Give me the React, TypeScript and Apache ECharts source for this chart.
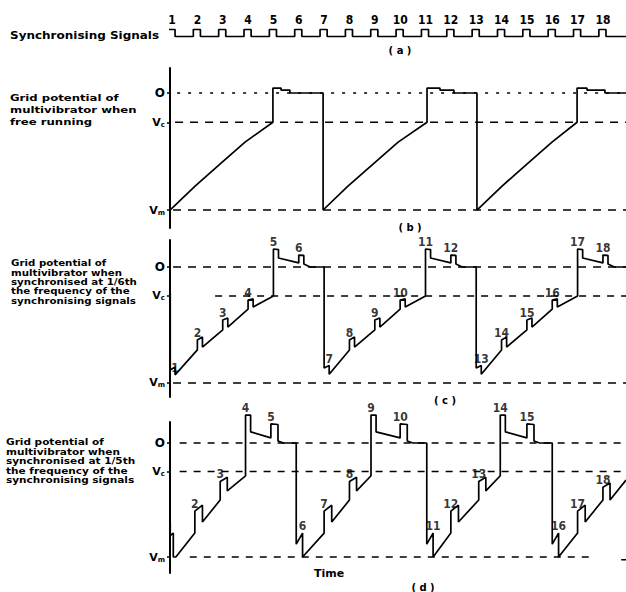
import React, { useEffect, useRef } from "react";
import * as echarts from "echarts";

// time axis is measured in synchronising-pulse periods (pulse n occurs at t = n)
const T_MIN = 0.92;
const T_MAX = 18.91;

const syncPulseNumbers = [1, 2, 3, 4, 5, 6, 7, 8, 9, 10, 11, 12, 13, 14, 15, 16, 17, 18];

// grid potential levels: O (zero), Vc (cut-off), Vm (minimum)
const levelValues = [0, -1, -4];
const levelNames = ["O", "Vc", "Vm"];

// (b) free running multivibrator: [time, potential]
const waveB: number[][] = [
  [0.92, -4], [1.91, -3.18], [2.89, -2.43], [3.88, -1.68], [4.98, -1.0],
  [4.98, 0.17], [5.3, 0.17], [5.3, 0.1], [5.65, 0.1], [5.65, 0], [6.96, 0],
  [6.96, -4], [7.94, -3.18], [8.93, -2.43], [9.92, -1.68], [11.06, -1.0],
  [11.06, 0.17], [11.57, 0.17], [11.57, 0.1], [12.12, 0.1], [12.12, 0], [13.03, 0],
  [13.03, -4], [14.02, -3.18], [15.0, -2.43], [15.99, -1.68], [16.98, -1.0],
  [16.98, 0.17], [17.37, 0.17], [17.37, 0.1], [18.08, 0.1], [18.08, 0], [18.91, 0],
];

// (c) synchronised at 1/6th: [time, potential, pulse label]
const waveC: any[][] = [
  [0.93, -0.9], [0.93, -3.55], [1.12, -3.45], [1.12, -3.72, "1"],
  [2, -2.86], [2, -2.52, "2"], [2.2, -2.41], [2.2, -2.76],
  [3, -2.17], [3, -1.83, "3"], [3.2, -1.76], [3.2, -2.07],
  [4, -1.45], [4, -1.14, "4"], [4.2, -1.1], [4.2, -1.38],
  [5, -1.0], [5, 0.62, "5"], [5.2, 0.6], [5.2, 0.31],
  [6, 0.14], [6, 0.41, "6"], [6.2, 0.4], [6.2, 0.1], [6.45, 0], [7, 0],
  [7, -3.48], [7.2, -3.4, "7"], [7.2, -3.7],
  [8, -2.86], [8, -2.52, "8"], [8.2, -2.41], [8.2, -2.76],
  [9, -2.17], [9, -1.83, "9"], [9.2, -1.76], [9.2, -2.07],
  [10, -1.45], [10, -1.14, "10"], [10.2, -1.1], [10.2, -1.38],
  [11, -1.0], [11, 0.62, "11"], [11.2, 0.6], [11.2, 0.31],
  [12, 0.14], [12, 0.41, "12"], [12.2, 0.4], [12.2, 0.1], [12.45, 0], [13, 0],
  [13, -3.48], [13.2, -3.4, "13"], [13.2, -3.7],
  [14, -2.86], [14, -2.52, "14"], [14.2, -2.41], [14.2, -2.76],
  [15, -2.17], [15, -1.83, "15"], [15.2, -1.76], [15.2, -2.07],
  [16, -1.45], [16, -1.14, "16"], [16.2, -1.1], [16.2, -1.38],
  [17, -1.0], [17, 0.62, "17"], [17.2, 0.6], [17.2, 0.31],
  [18, 0.14], [18, 0.41, "18"], [18.2, 0.4], [18.2, 0.1], [18.45, 0], [18.91, 0],
];

// (d) synchronised at 1/5th: [time, potential, pulse label]
const waveD: any[][] = [
  [0.93, -2.8], [0.93, -3.25], [1.05, -3.16], [1.05, -4.0], [1.15, -4.0],
  [1.9, -3.16], [1.9, -2.39, "2"], [2.2, -2.18], [2.2, -2.77],
  [2.9, -2.0], [2.9, -1.35, "3"], [3.18, -1.2], [3.18, -1.68],
  [3.9, -1.15], [3.9, 0.98, "4"], [4.1, 0.98], [4.1, 0.39],
  [4.9, 0.18], [4.9, 0.67, "5"], [5.18, 0.65], [5.18, 0.07], [5.4, 0], [5.9, 0],
  [5.9, -3.55], [6.15, -3.16, "6"], [6.15, -4.0],
  [7, -3.16], [7, -2.39, "7"], [7.3, -2.18], [7.3, -2.77],
  [8, -2.0], [8, -1.35, "8"], [8.28, -1.2], [8.28, -1.68],
  [8.85, -1.15], [8.85, 0.98, "9"], [9.05, 0.98], [9.05, 0.39],
  [10, 0.18], [10, 0.67, "10"], [10.28, 0.65], [10.28, 0.07], [10.5, 0], [11.05, 0],
  [11.05, -3.55], [11.3, -3.16, "11"], [11.3, -4.0],
  [12, -3.16], [12, -2.39, "12"], [12.3, -2.18], [12.3, -2.77],
  [13.1, -2.0], [13.1, -1.35, "13"], [13.38, -1.2], [13.38, -1.68],
  [13.95, -1.15], [13.95, 0.98, "14"], [14.15, 0.98], [14.15, 0.39],
  [15, 0.18], [15, 0.67, "15"], [15.28, 0.65], [15.28, 0.07], [15.5, 0], [16, 0],
  [16, -3.55], [16.25, -3.16, "16"], [16.25, -4.0],
  [17, -3.16], [17, -2.39, "17"], [17.3, -2.18], [17.3, -2.77],
  [18, -2.0], [18, -1.55, "18"], [18.28, -1.4], [18.28, -2.0], [18.91, -1.3],
];

const captionB = ["Grid potential of", "multivibrator when", "free running"];
const captionC = ["Grid potential of", "multivibrator when", "synchronised at 1/6th", "the frequency of the", "synchronising signals"];
const captionD = ["Grid potential of", "multivibrator when", "synchronised at 1/5th", "the frequency of the", "synchronising signals"];

const NUM_FONT = '"Liberation Sans Narrow", "DejaVu Sans Condensed", "DejaVu Sans", sans-serif';
const TXT_FONT = '"DejaVu Sans", sans-serif';

function levelAxis(gridIndex: number, min: number, max: number) {
  return {
    type: "value",
    gridIndex,
    min,
    max,
    axisLine: { show: true, onZero: false, lineStyle: { color: "#000", width: 2 } },
    splitLine: { show: false },
    axisTick: { show: true, customValues: levelValues, length: 3, lineStyle: { color: "#000", width: 1.5 } },
    axisLabel: {
      show: true,
      customValues: levelValues,
      margin: 5,
      color: "#000",
      formatter: (v: number) => {
        const i = levelValues.findIndex((l) => Math.abs(l - v) < 1e-6);
        const name = levelNames[i] || "";
        return name.length > 1 ? `{v|${name[0]}}{s|${name.slice(1)}}` : `{o|${name}}`;
      },
      rich: {
        o: { fontSize: 12, fontWeight: "bold", fontFamily: TXT_FONT, color: "#000" },
        v: { fontSize: 11, fontWeight: "bold", fontFamily: TXT_FONT, color: "#000" },
        s: { fontSize: 7, fontWeight: "bold", fontFamily: TXT_FONT, color: "#000", padding: [5, 0, 0, 0] },
      },
    },
  };
}

function hiddenX(gridIndex: number) {
  return { type: "value", gridIndex, min: T_MIN, max: T_MAX, show: false };
}

function refLine(i: number, level: number, t0: number, t1: number, dash: number[]) {
  return {
    type: "line",
    xAxisIndex: i,
    yAxisIndex: i,
    data: [[t0, level], [t1, level]],
    symbol: "none",
    silent: true,
    z: 1,
    lineStyle: { color: "#000", width: 1.5, type: dash },
  };
}

function waveSeries(i: number, wave: any[][]) {
  return {
    type: "line",
    xAxisIndex: i,
    yAxisIndex: i,
    data: wave.map((p) => [p[0], p[1]]),
    symbol: "none",
    silent: true,
    clip: false,
    z: 3,
    lineStyle: { color: "#000", width: 1.7 },
  };
}

function labelSeries(i: number, wave: any[][]) {
  return {
    type: "scatter",
    xAxisIndex: i,
    yAxisIndex: i,
    symbolSize: 0,
    silent: true,
    clip: false,
    z: 4,
    data: wave.filter((p) => p.length > 2).map((p) => ({ value: [p[0], p[1]], name: p[2] })),
    label: {
      show: true,
      position: "top",
      distance: 1,
      formatter: (p: any) => p.name,
      fontSize: 12,
      fontWeight: "bold",
      fontFamily: NUM_FONT,
      color: "#000",
    },
  };
}

function caption(lines: string[], x: number, top: number, lineHeight: number, scaleX: number) {
  return {
    type: "text",
    x,
    y: top,
    scaleX,
    silent: true,
    style: {
      text: lines.join("\n"),
      font: `bold 9px ${TXT_FONT}`,
      lineHeight,
      fill: "#000",
      verticalAlign: "top",
    },
  };
}

function label(text: string, x: number, y: number, size = 10) {
  return {
    type: "text",
    x,
    y,
    silent: true,
    style: { text, font: `bold ${size}px ${TXT_FONT}`, fill: "#000", align: "center", verticalAlign: "middle" },
  };
}

export default function App() {
  const ref = useRef<HTMLDivElement>(null);

  useEffect(() => {
    if (!ref.current) return;
    const chart = echarts.init(ref.current, null, { renderer: "svg" });

    const syncData: number[][] = [];
    syncPulseNumbers.forEach((n) => {
      syncData.push([n - 0.16, 0], [n - 0.16, 1], [n + 0.12, 1], [n + 0.12, 0]);
    });
    syncData.push([T_MAX, 0]);

    const option: any = {
      animation: false,
      backgroundColor: "#fff",
      grid: [
        { left: 170, width: 456, top: 28.1, height: 9.8 },
        { left: 170, width: 456, top: 68, height: 160 },
        { left: 170, width: 456, top: 240, height: 157 },
        { left: 170, width: 456, top: 422, height: 151 },
      ],
      xAxis: [
        {
          type: "value",
          gridIndex: 0,
          min: T_MIN,
          max: T_MAX,
          position: "top",
          axisLine: { show: false },
          axisTick: { show: false },
          splitLine: { show: false },
          axisLabel: {
            show: true,
            customValues: syncPulseNumbers,
            margin: 2,
            fontSize: 12,
            fontWeight: "bold",
            fontFamily: NUM_FONT,
            color: "#000",
          },
        },
        hiddenX(1),
        hiddenX(2),
        hiddenX(3),
      ],
      yAxis: [
        { type: "value", gridIndex: 0, min: -0.2, max: 1.2, show: false },
        levelAxis(1, -4.615, 0.855),
        levelAxis(2, -4.483, 0.931),
        levelAxis(3, -4.561, 0.737),
      ],
      series: [
        {
          type: "line",
          xAxisIndex: 0,
          yAxisIndex: 0,
          data: syncData,
          symbol: "none",
          silent: true,
          lineStyle: { color: "#000", width: 1.7 },
        },
        refLine(1, 0, 1.2, T_MAX, [3, 8]),
        refLine(1, -1, 1.12, T_MAX, [8, 7]),
        refLine(1, -4, 1.04, T_MAX, [8, 7]),
        refLine(2, 0, 1.04, T_MAX, [8, 7]),
        refLine(2, -1, 2.7, T_MAX, [7, 7]),
        refLine(2, -4, 1.04, T_MAX, [8, 7]),
        refLine(3, 0, 1.3, T_MAX, [7, 7]),
        refLine(3, -1, 1.3, T_MAX, [7, 7]),
        refLine(3, -4, 1.7, 17.6, [7, 7]),
        refLine(3, -4.1, 18.72, T_MAX, [7, 7]),
        waveSeries(1, waveB),
        waveSeries(2, waveC),
        waveSeries(3, waveD),
        labelSeries(2, waveC),
        labelSeries(3, waveD),
      ],
      graphic: [
        {
          type: "text",
          x: 10,
          y: 36,
          scaleX: 1.2,
          silent: true,
          style: { text: "Synchronising Signals", font: `bold 10px ${TXT_FONT}`, fill: "#000", verticalAlign: "middle" },
        },
        label("( a )", 400, 50),
        label("( b )", 410, 227),
        label("( c )", 445, 400),
        label("( d )", 423, 587),
        label("Time", 329, 573, 11),
        caption(captionB, 10, 92, 12, 1.3),
        caption(captionC, 11, 258.5, 9.3, 1.14),
        caption(captionD, 6, 437.3, 9.5, 1.17),
      ],
    };

    chart.setOption(option);
    return () => chart.dispose();
  }, []);

  return (
    <div
      ref={ref}
      style={{ position: "absolute", left: 0, top: 0, width: 626, height: 592, background: "#fff" }}
    />
  );
}
